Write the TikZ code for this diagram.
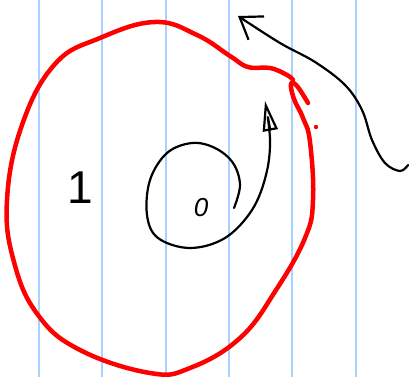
\documentclass[tikz,border=0pt]{standalone}
\usepackage{fontspec}
\setmainfont{Liberation Sans}
\usetikzlibrary{arrows.meta}
\definecolor{ruling}{RGB}{170,208,255}
\definecolor{pen}{RGB}{255,0,0}
\tikzset{rule/.style={draw=ruling,line width=1.6pt},
 region/.style={draw=pen,line width=4.5pt,line cap=round,line join=round},
 ink/.style={draw=black,line width=2.2pt,line cap=round,line join=round},
 lbl/.style={inner sep=0pt,text=black}}
\begin{document}
\begin{tikzpicture}[x=1pt,y=-1pt]
\useasboundingbox[fill=white] (0,0) rectangle (414,377);
\foreach \x in {39,102,166,229,292,356}
  \draw[rule] (\x,0)--(\x,377);
% outer region
\draw[region] plot[smooth,tension=0.7] coordinates {(308,103) (297,86) (291,84) (294,99)
 (303,118) (310,142) (313,200) (305,238) (276,290) (240,338) (190,368) (150,373) (80,350)
 (38,315) (14,262) (7,200) (22,125) (55,64) (100,38) (155,22) (197,35) (230,56) (248,67)
 (270,68) (287,75) (293,80)};
\fill[pen] (316,127) circle (2.2pt);
\node[lbl,font=\fontsize{46}{50}\selectfont] (one) at (80,188) {1};
\node[lbl,font=\fontsize{26}{28}\selectfont\itshape] (zero) at (201,208) {0};
% spiral out of 0
\coordinate (s0) at (234,208);
\coordinate (s1) at (265,101);
\draw[ink,-{Triangle[open,length=30pt,width=15pt,line width=2.2pt]}] plot[smooth,tension=0.6] coordinates {(s0) (240,185) (233,163) (215,148)
 (192,143) (167,153) (150,180) (147,215) (158,238) (190,248) (225,238) (252,210) (266,175)
 (270,140) (s1)};
% arrow from the right
\coordinate (t0) at (408,165);
\coordinate (t1) at (238,16);
\draw[ink,-{Straight Barb[length=20pt,width=28pt]}] plot[smooth,tension=0.6] coordinates {(t0) (400,171) (385,163)
 (372,140) (362,110) (345,85) (315,62) (280,43) (t1)};
\end{tikzpicture}
\end{document}
